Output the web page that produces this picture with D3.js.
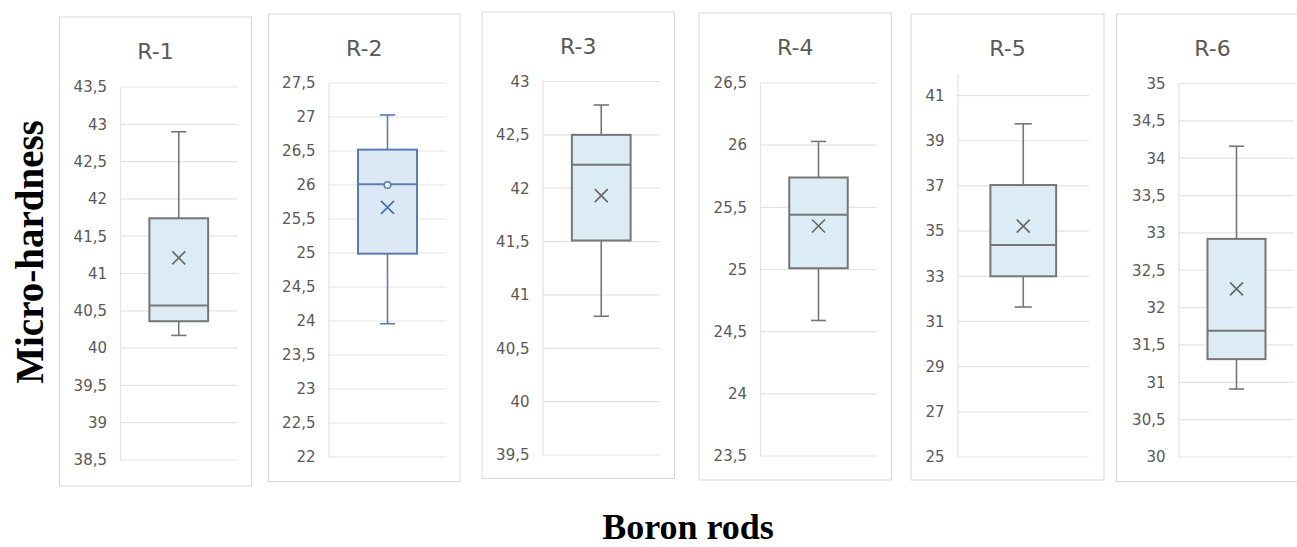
<!DOCTYPE html>
<html>
<head>
<meta charset="utf-8">
<script src="https://cdn.jsdelivr.net/npm/d3@7"></script>
<style>
  html, body { margin: 0; padding: 0; background: #ffffff; }
  svg { display: block; }
</style>
</head>
<body>
<svg id="chart" width="1297" height="547"></svg>
<script>
// Micro-hardness of six boron rods, one box-and-whisker panel per rod
const rods      = ["R-1", "R-2", "R-3", "R-4", "R-5", "R-6"];
const minValues = [40.17, 23.96, 40.80, 24.59, 31.64, 30.91];
const q1Values  = [40.36, 24.99, 41.51, 25.01, 33.00, 31.31];
const medians   = [40.57, 26.01, 42.22, 25.44, 34.38, 31.69];
const q3Values  = [41.74, 26.52, 42.50, 25.74, 37.04, 32.92];
const maxValues = [42.90, 27.03, 42.78, 26.03, 39.75, 34.16];
const means     = [41.21, 25.67, 41.93, 25.35, 35.22, 32.25];
// inner data points shown as markers (only R-2 displays one)
const innerPoints = [[], [26.0], [], [], [], []];

// axis ranges and tick steps of each panel
const axisMin  = [38.5, 22, 39.5, 23.5, 25, 30];
const axisMax  = [43.5, 27.5, 43, 26.5, 42, 35];
const tickStep = [0.5, 0.5, 0.5, 0.5, 2, 0.5];
const tickTop  = [43.5, 27.5, 43, 26.5, 41, 35];

const xTitle = "Boron rods";
const yTitle = "Micro-hardness";

// panel frames and plot-area offsets
const frames = [
  { x: 59.5,   y: 17, w: 192,   h: 469,   left: 60.5, top: 70 },
  { x: 268.5,  y: 14, w: 191.5, h: 467.5, left: 60,   top: 69 },
  { x: 482,    y: 12, w: 192.5, h: 466.5, left: 60.5, top: 69.5 },
  { x: 699,    y: 13, w: 192.5, h: 467,   left: 61,   top: 70 },
  { x: 911,    y: 14, w: 193,   h: 466,   left: 46.5, top: 59 },
  { x: 1116.5, y: 14, w: 192,   h: 467.5, left: 62,   top: 69.5 }
];
const plotRight = 178, plotBottom = 443;

const grayStyle = { stroke: "#767676", fill: "#dbecf4", mark: "#6a6a6a" };
const blueStyle = { stroke: "#5a7db0", fill: "#dce9f4", mark: "#4d71a8" };
const styles = [grayStyle, blueStyle, grayStyle, grayStyle, grayStyle, grayStyle];

const svg = d3.select("#chart");
const fmt = v => d3.format("~g")(v).replace(".", ",");

rods.forEach((name, i) => {
  const f = frames[i];
  const st = styles[i];
  const g = svg.append("g");

  g.append("rect")
    .attr("x", f.x).attr("y", f.y)
    .attr("width", f.w).attr("height", f.h)
    .attr("fill", "#ffffff")
    .attr("stroke", "#d9d9d9").attr("stroke-width", 1);

  g.append("text")
    .attr("x", f.x + f.w / 2).attr("y", f.y + 42)
    .attr("text-anchor", "middle")
    .attr("font-family", "DejaVu Sans, sans-serif")
    .attr("font-size", 22)
    .attr("fill", "#595959")
    .text(name);

  const x0 = f.x + f.left, x1 = f.x + plotRight;
  const y = d3.scaleLinear()
    .domain([axisMin[i], axisMax[i]])
    .range([f.y + plotBottom, f.y + f.top]);

  const ticks = d3.range(axisMin[i], tickTop[i] + tickStep[i] / 2, tickStep[i]);

  // horizontal gridlines
  g.append("g").selectAll("line").data(ticks).join("line")
    .attr("x1", x0).attr("x2", x1)
    .attr("y1", d => y(d)).attr("y2", d => y(d))
    .attr("stroke", "#e3e3e3").attr("stroke-width", 1.2);

  // value axis
  const axis = d3.axisLeft(y).tickValues(ticks).tickSize(0).tickPadding(13).tickFormat(fmt);
  const ag = g.append("g").attr("transform", `translate(${x0},0)`).call(axis);
  ag.select(".domain").attr("stroke", "#e3e3e3").attr("stroke-width", 1.2);
  ag.selectAll("text")
    .attr("font-family", "DejaVu Sans, sans-serif")
    .attr("font-size", 15)
    .attr("fill", "#595959");

  // box, whiskers, median and mean
  const band = d3.scaleBand().domain([name]).range([x0, x1]).paddingInner(0).paddingOuter(0.5);
  const bx = band(name), bw = band.bandwidth();
  const cx = bx + bw / 2;
  const cap = bw * 0.26;

  const box = g.append("g").attr("stroke", st.stroke);
  box.append("line")
    .attr("x1", cx).attr("x2", cx)
    .attr("y1", y(maxValues[i])).attr("y2", y(q3Values[i]))
    .attr("stroke-width", 1.6);
  box.append("line")
    .attr("x1", cx).attr("x2", cx)
    .attr("y1", y(q1Values[i])).attr("y2", y(minValues[i]))
    .attr("stroke-width", 1.6);
  box.append("line")
    .attr("x1", cx - cap / 2).attr("x2", cx + cap / 2)
    .attr("y1", y(maxValues[i])).attr("y2", y(maxValues[i]))
    .attr("stroke-width", 1.6);
  box.append("line")
    .attr("x1", cx - cap / 2).attr("x2", cx + cap / 2)
    .attr("y1", y(minValues[i])).attr("y2", y(minValues[i]))
    .attr("stroke-width", 1.6);
  box.append("rect")
    .attr("x", bx).attr("y", y(q3Values[i]))
    .attr("width", bw).attr("height", y(q1Values[i]) - y(q3Values[i]))
    .attr("fill", st.fill).attr("stroke-width", 2);
  box.append("line")
    .attr("x1", bx).attr("x2", bx + bw)
    .attr("y1", y(medians[i])).attr("y2", y(medians[i]))
    .attr("stroke-width", 2);

  innerPoints[i].forEach(v => {
    box.append("circle")
      .attr("cx", cx).attr("cy", y(v)).attr("r", 3.3)
      .attr("fill", "#e8f1f8").attr("stroke-width", 1.5);
  });

  const s = 6.5, my = y(means[i]);
  g.append("path")
    .attr("d", `M${cx - s},${my - s}L${cx + s},${my + s}M${cx - s},${my + s}L${cx + s},${my - s}`)
    .attr("stroke", st.mark).attr("stroke-width", 1.7).attr("fill", "none");
});

// shared axis titles
svg.append("text")
  .attr("x", 688).attr("y", 539)
  .attr("text-anchor", "middle")
  .attr("font-family", "Liberation Serif, Times New Roman, serif")
  .attr("font-weight", "bold")
  .attr("font-size", 36)
  .attr("fill", "#000000")
  .text(xTitle);

svg.append("text")
  .attr("transform", "translate(43,252) rotate(-90)")
  .attr("text-anchor", "middle")
  .attr("font-family", "Liberation Serif, Times New Roman, serif")
  .attr("font-weight", "bold")
  .attr("font-size", 39)
  .attr("fill", "#000000")
  .text(yTitle);
</script>
</body>
</html>
